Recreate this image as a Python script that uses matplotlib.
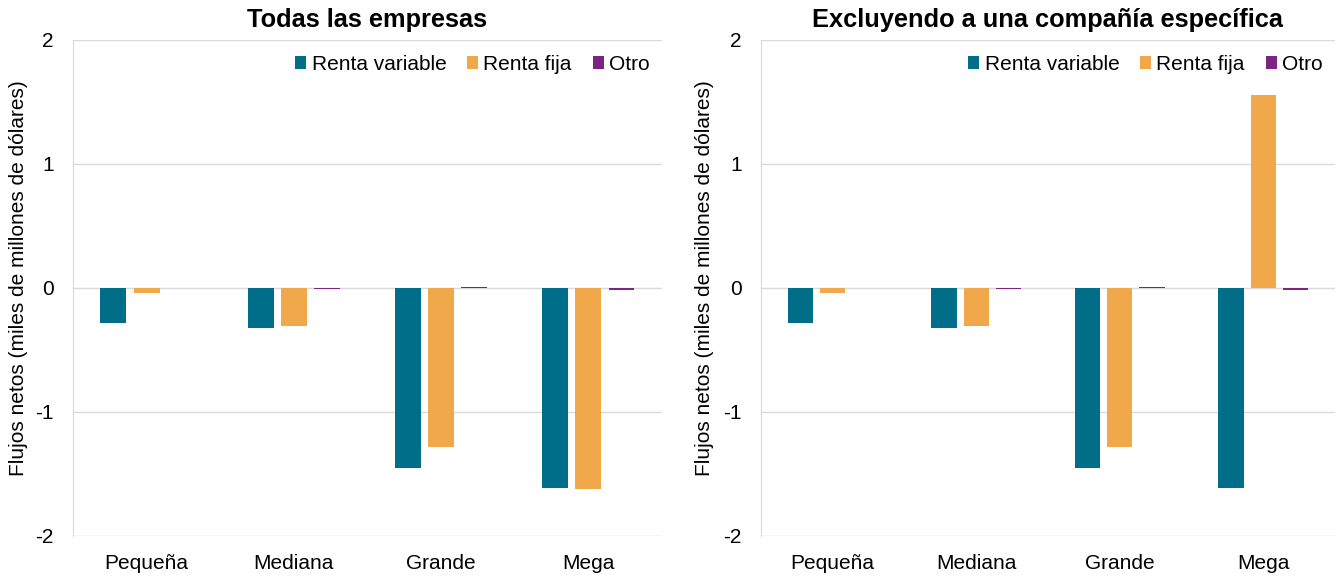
import numpy as np
import matplotlib.pyplot as plt

plt.rcParams['font.family'] = ['Liberation Sans', 'DejaVu Sans']

categorias = ['Pequeña', 'Mediana', 'Grande', 'Mega']
series = ['Renta variable', 'Renta fija', 'Otro']
colores = ['#006E88', '#F0A84B', '#7B2482']

# Todas las empresas
todas_rv = [-0.28, -0.32, -1.45, -1.61]
todas_rf = [-0.04, -0.31, -1.28, -1.62]
todas_otro = [-0.002, -0.01, 0.01, -0.015]

# Excluyendo a una compania especifica
excl_rv = [-0.28, -0.32, -1.45, -1.61]
excl_rf = [-0.04, -0.31, -1.28, 1.56]
excl_otro = [-0.002, -0.01, 0.01, -0.015]

paneles = [
    ('Todas las empresas', [todas_rv, todas_rf, todas_otro]),
    ('Excluyendo a una compañía específica', [excl_rv, excl_rf, excl_otro]),
]

fig = plt.figure(figsize=(13.36, 5.77), dpi=100)
posiciones = [[0.0546, 0.0711, 0.4409, 0.8596], [0.5696, 0.0711, 0.4296, 0.8596]]
label_x = [-0.076, -0.082]

x = np.arange(len(categorias))
ancho = 0.176
paso = 0.225

for pos, lx, (titulo, datos) in zip(posiciones, label_x, paneles):
    ax = fig.add_axes(pos)
    for i, (vals, nombre, col) in enumerate(zip(datos, series, colores)):
        ax.bar(x + (i - 1) * paso, vals, width=ancho, color=col, label=nombre, zorder=3)
    ax.set_xlim(-0.5, len(categorias) - 0.5)
    ax.set_ylim(-2, 2)
    ax.set_yticks([-2, -1, 0, 1, 2])
    ax.set_yticklabels(['-2', '-1', '0', '1', '2'])
    ax.set_xticks(x)
    ax.set_xticklabels(categorias)
    ax.tick_params(axis='both', length=0, labelsize=15, colors='#000000')
    ax.tick_params(axis='y', pad=14)
    ax.tick_params(axis='x', pad=13)
    ax.grid(axis='y', color='#D9D9D9', linewidth=1.0, zorder=0)
    for s in ['top', 'right', 'bottom']:
        ax.spines[s].set_visible(False)
    ax.spines['left'].set_color('#D9D9D9')
    ax.set_ylabel('Flujos netos (miles de millones de dólares)', fontsize=15)
    ax.yaxis.set_label_coords(lx, 0.52)
    ax.set_title(titulo, fontsize=18.3, fontweight='bold', pad=9)
    ax.legend(loc='upper right', ncol=3, frameon=False, fontsize=15,
              handlelength=0.53, handleheight=0.53, handletextpad=0.25,
              columnspacing=1.0, bbox_to_anchor=(1.0, 0.995), borderaxespad=0.2)

fig.savefig('out.png', dpi=100)
